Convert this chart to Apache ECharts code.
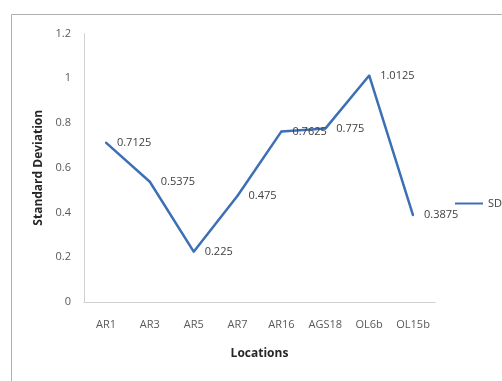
<!DOCTYPE html>
<html>
<head>
<meta charset="utf-8">
<style>
  html, body { margin: 0; padding: 0; background: #fff; }
  #chart { width: 502px; height: 381px; }
</style>
<script src="https://cdn.jsdelivr.net/npm/echarts@6/dist/echarts.min.js"></script>
</head>
<body>
<div id="chart"></div>
<script>
// Standard deviation per sampling location
const locations = ['AR1', 'AR3', 'AR5', 'AR7', 'AR16', 'AGS18', 'OL6b', 'OL15b'];
const sdValues = [0.7125, 0.5375, 0.225, 0.475, 0.7625, 0.775, 1.0125, 0.3875];
const yTicks = [0, 0.2, 0.4, 0.6, 0.8, 1, 1.2];

const fontFamily = '"Open Sans", "Liberation Sans", sans-serif';
const lineColor = '#3d6fb6';
const chart = echarts.init(document.getElementById('chart'), null, { renderer: 'canvas' });

chart.setOption({
  animation: false,
  backgroundColor: '#fff',
  graphic: [{
    type: 'rect',
    shape: { x: 11.5, y: 14.5, width: 600, height: 500 },
    style: { fill: 'none', stroke: '#b0b0b0', lineWidth: 1 },
    silent: true
  }],
  legend: {
    data: ['SD'],
    left: 450,
    top: 193,
    itemWidth: 28,
    itemHeight: 12,
    itemGap: 4,
    icon: 'path://M0,5 L28,5 L28,7 L0,7 Z',
    itemStyle: { color: lineColor, opacity: 1 },
    textStyle: { color: '#404040', fontSize: 11, fontFamily }
  },
  grid: { left: 84, right: 67, top: 33.5, bottom: 79, containLabel: false },
  xAxis: {
    type: 'category',
    data: locations,
    boundaryGap: true,
    name: 'Locations',
    nameLocation: 'middle',
    nameGap: 46,
    nameTextStyle: { color: '#262626', fontSize: 12, fontWeight: 'bold', fontFamily },
    axisLine: { lineStyle: { color: '#d0d0d0', width: 1 } },
    axisTick: { show: false },
    axisLabel: { color: '#595959', fontSize: 11, margin: 17, fontFamily },
    splitLine: { show: false }
  },
  yAxis: {
    type: 'value',
    min: yTicks[0],
    max: yTicks[yTicks.length - 1],
    interval: 0.2,
    name: 'Standard Deviation',
    nameLocation: 'middle',
    nameGap: 38,
    nameRotate: 90,
    nameTextStyle: { color: '#262626', fontSize: 12, fontWeight: 'bold', fontFamily },
    axisLine: { show: true, lineStyle: { color: '#d0d0d0', width: 1 } },
    axisTick: { show: false },
    axisLabel: {
      color: '#595959', fontSize: 11, margin: 13, fontFamily,
      formatter: v => String(Math.round(v * 10) / 10)
    },
    splitLine: { show: false }
  },
  series: [{
    name: 'SD',
    type: 'line',
    data: sdValues,
    symbol: 'circle',
    symbolSize: 2,
    showSymbol: true,
    showAllSymbol: true,
    lineStyle: { color: lineColor, width: 2.5 },
    itemStyle: { color: lineColor },
    label: {
      show: true,
      position: 'right',
      distance: 10,
      color: '#404040',
      fontSize: 11,
      fontFamily,
      offset: [0, 4],
      formatter: p => String(p.value)
    },
    labelLayout: { hideOverlap: false }
  }]
});
</script>
</body>
</html>
